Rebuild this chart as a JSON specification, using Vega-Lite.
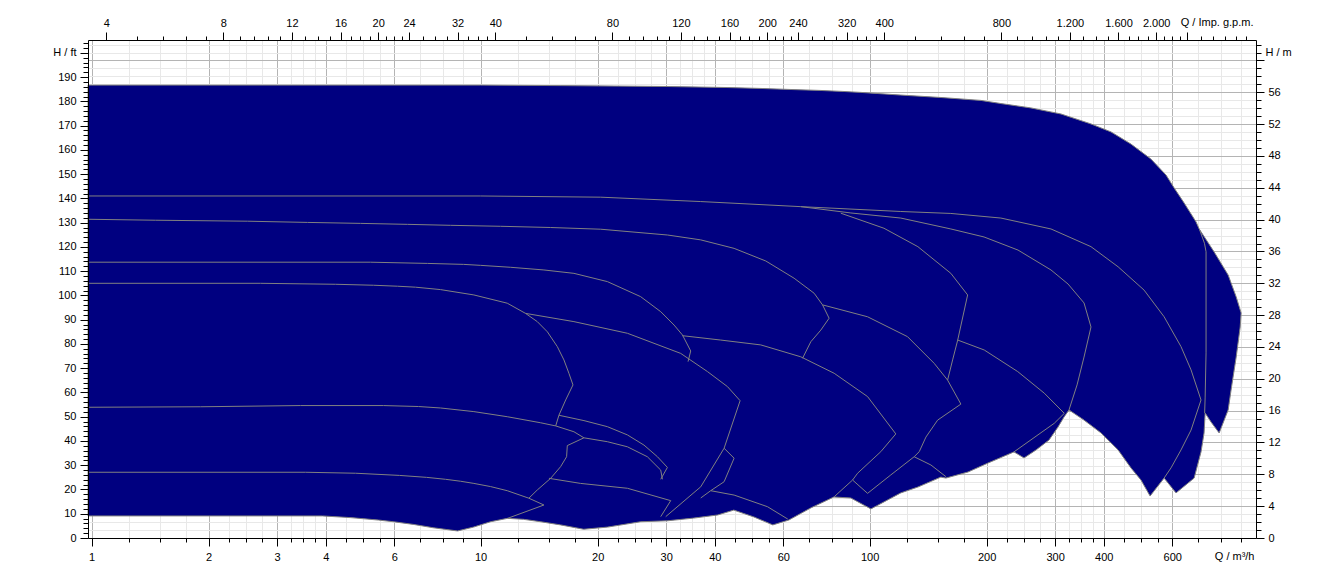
{
  "$schema": "https://vega.github.io/schema/vega-lite/v6.json",
  "width": 1168,
  "height": 498,
  "autosize": {"type": "none"},
  "padding": {"left": 88, "top": 40, "right": 88, "bottom": 41},
  "background": "#ffffff",
  "config": {
    "view": {"stroke": null},
    "font": "Liberation Sans",
    "axis": {"labelFont": "Liberation Sans", "labelFontSize": 11, "labelColor": "#000000", "tickColor": "#000000", "domainColor": "#000000", "titleFont": "Liberation Sans", "titleFontSize": 11, "titleFontWeight": "normal", "titleColor": "#000000", "labelFlush": false, "labelOverlap": false, "labelBound": false}
  },
  "datasets": {
    "field": [
      {"i":0,"q":0.979,"h":186.7},{"i":1,"q":10.0,"h":186.7},{"i":2,"q":16.06,"h":186.5},{"i":3,"q":30.82,"h":186.1},{"i":4,"q":43.2,"h":185.7},{"i":5,"q":53.14,"h":185.3},{"i":6,"q":62.72,"h":184.9},{"i":7,"q":74.92,"h":184.5},{"i":8,"q":85.35,"h":184.1},{"i":9,"q":94.95,"h":183.7},{"i":10,"q":120.3,"h":182.6},{"i":11,"q":152.5,"h":181.6},{"i":12,"q":193.3,"h":180.4},{"i":13,"q":217.6,"h":179.1},{"i":14,"q":259.9,"h":177.3},{"i":15,"q":310.5,"h":174.8},{"i":16,"q":370.9,"h":170.7},{"i":17,"q":417.6,"h":167.4},{"i":18,"q":469.9,"h":162.4},{"i":19,"q":529.0,"h":156.2},{"i":20,"q":578.4,"h":149.6},{"i":21,"q":606.8,"h":144.3},{"i":22,"q":643.7,"h":138.1},{"i":23,"q":690.8,"h":130.3},{"i":24,"q":703.6,"h":127.4},{"i":25,"q":769.0,"h":117.9},{"i":26,"q":835.4,"h":108.4},{"i":27,"q":876.0,"h":99.4},{"i":28,"q":902.0,"h":92.8},{"i":29,"q":897.0,"h":87.0},{"i":30,"q":876.0,"h":74.6},{"i":31,"q":849.9,"h":61.0},{"i":32,"q":835.4,"h":52.8},{"i":33,"q":792.0,"h":43.3},{"i":34,"q":755.0,"h":47.8},{"i":35,"q":729.0,"h":51.5},{"i":36,"q":724.3,"h":43.3},{"i":37,"q":711.4,"h":35.5},{"i":38,"q":683.0,"h":24.7},{"i":39,"q":613.6,"h":18.6},{"i":40,"q":571.7,"h":24.7},{"i":41,"q":526.2,"h":17.3},{"i":42,"q":498.6,"h":23.9},{"i":43,"q":469.9,"h":28.9},{"i":44,"q":435.5,"h":36.3},{"i":45,"q":393.6,"h":43.3},{"i":46,"q":355.9,"h":48.6},{"i":47,"q":325.6,"h":52.8},{"i":48,"q":316.2,"h":49.9},{"i":49,"q":305.2,"h":45.8},{"i":50,"q":289.3,"h":40.4},{"i":51,"q":267.9,"h":36.3},{"i":52,"q":249.5,"h":33.0},{"i":53,"q":235.1,"h":35.5},{"i":54,"q":201.6,"h":30.9},{"i":55,"q":179.1,"h":27.2},{"i":56,"q":157.1,"h":24.7},{"i":57,"q":152.5,"h":25.1},{"i":58,"q":133.1,"h":21.0},{"i":59,"q":120.3,"h":18.6},{"i":60,"q":100.8,"h":12.0},{"i":61,"q":89.49,"h":16.5},{"i":62,"q":80.93,"h":16.9},{"i":63,"q":70.62,"h":12.4},{"i":64,"q":62.0,"h":7.4},{"i":65,"q":56.39,"h":5.4},{"i":66,"q":50.39,"h":8.7},{"i":67,"q":44.77,"h":11.5},{"i":68,"q":40.72,"h":9.5},{"i":69,"q":35.32,"h":8.2},{"i":70,"q":30.27,"h":7.1},{"i":71,"q":25.79,"h":6.7},{"i":72,"q":21.22,"h":4.5},{"i":73,"q":18.41,"h":3.6},{"i":74,"q":16.06,"h":5.4},{"i":75,"q":14.27,"h":6.7},{"i":76,"q":12.9,"h":7.7},{"i":77,"q":11.73,"h":8.1},{"i":78,"q":10.61,"h":6.7},{"i":79,"q":9.594,"h":4.5},{"i":80,"q":8.727,"h":2.9},{"i":81,"q":7.57,"h":4.2},{"i":82,"q":6.724,"h":5.6},{"i":83,"q":5.973,"h":6.7},{"i":84,"q":5.465,"h":7.4},{"i":85,"q":4.63,"h":8.4},{"i":86,"q":3.922,"h":9.1},{"i":87,"q":0.979,"h":9.1},{"i":88,"q":0.979,"h":186.7}
    ],
    "curves": [
      {"c":"s01","i":0,"q":0.979,"h":141.0},{"c":"s01","i":1,"q":10.0,"h":141.0},{"c":"s01","i":2,"q":20.36,"h":140.5},{"c":"s01","i":3,"q":36.81,"h":138.7},{"c":"s01","i":4,"q":66.56,"h":136.6},{"c":"s01","i":5,"q":120.3,"h":134.6},{"c":"s01","i":6,"q":161.8,"h":133.8},{"c":"s01","i":7,"q":217.6,"h":131.9},{"c":"s01","i":8,"q":292.7,"h":127.4},{"c":"s01","i":9,"q":370.9,"h":120.1},{"c":"s01","i":10,"q":435.5,"h":111.8},{"c":"s01","i":11,"q":507.8,"h":102.2},{"c":"s01","i":12,"q":571.7,"h":91.2},{"c":"s01","i":13,"q":631.9,"h":78.9},{"c":"s01","i":14,"q":670.6,"h":69.3},{"c":"s01","i":15,"q":711.4,"h":56.9},{"c":"s01","i":16,"q":670.6,"h":44.5},{"c":"s01","i":17,"q":631.9,"h":36.3},{"c":"s01","i":18,"q":595.6,"h":28.9},{"c":"s01","i":19,"q":571.7,"h":24.7},
      {"c":"s02","i":0,"q":66.56,"h":136.6},{"c":"s02","i":1,"q":89.49,"h":134.0},{"c":"s02","i":2,"q":120.3,"h":131.9},{"c":"s02","i":3,"q":161.8,"h":127.4},{"c":"s02","i":4,"q":196.9,"h":124.1},{"c":"s02","i":5,"q":240.8,"h":118.7},{"c":"s02","i":6,"q":292.7,"h":110.5},{"c":"s02","i":7,"q":323.8,"h":104.7},{"c":"s02","i":8,"q":355.9,"h":96.9},{"c":"s02","i":9,"q":370.9,"h":87.0},{"c":"s02","i":10,"q":355.9,"h":74.6},{"c":"s02","i":11,"q":341.5,"h":63.1},{"c":"s02","i":12,"q":325.6,"h":52.8},
      {"c":"s03","i":0,"q":84.35,"h":133.9},{"c":"s03","i":1,"q":108.9,"h":127.7},{"c":"s03","i":2,"q":133.1,"h":120.1},{"c":"s03","i":3,"q":161.8,"h":109.1},{"c":"s03","i":4,"q":178.7,"h":100.2},{"c":"s03","i":5,"q":168.5,"h":81.6},{"c":"s03","i":6,"q":163.5,"h":73.4},{"c":"s03","i":7,"q":158.7,"h":65.1},
      {"c":"s04","i":0,"q":75.7,"h":96.1},{"c":"s04","i":1,"q":98.83,"h":91.2},{"c":"s04","i":2,"q":125.2,"h":83.0},{"c":"s04","i":3,"q":146.6,"h":72.0},{"c":"s04","i":4,"q":158.7,"h":65.1},{"c":"s04","i":5,"q":171.7,"h":55.2},{"c":"s04","i":6,"q":149.6,"h":48.6},{"c":"s04","i":7,"q":139.6,"h":41.6},{"c":"s04","i":8,"q":134.2,"h":35.6},{"c":"s04","i":9,"q":130.2,"h":33.5},{"c":"s04","i":10,"q":113.4,"h":26.0},{"c":"s04","i":11,"q":98.83,"h":18.4},{"c":"s04","i":12,"q":90.44,"h":23.9},
      {"c":"s05","i":0,"q":130.2,"h":33.5},{"c":"s05","i":1,"q":143.8,"h":30.1},{"c":"s05","i":2,"q":157.1,"h":25.3},
      {"c":"s06","i":0,"q":168.5,"h":81.6},{"c":"s06","i":1,"q":197.2,"h":77.5},{"c":"s06","i":2,"q":240.4,"h":68.6},{"c":"s06","i":3,"q":281.3,"h":59.7},{"c":"s06","i":4,"q":316.7,"h":51.4},{"c":"s06","i":5,"q":298.5,"h":47.3},{"c":"s06","i":6,"q":235.1,"h":35.5},
      {"c":"s07","i":0,"q":0.979,"h":131.4},{"c":"s07","i":1,"q":1.458,"h":131.0},{"c":"s07","i":2,"q":2.515,"h":130.6},{"c":"s07","i":3,"q":3.589,"h":130.1},{"c":"s07","i":4,"q":4.912,"h":129.7},{"c":"s07","i":5,"q":6.49,"h":129.3},{"c":"s07","i":6,"q":8.373,"h":128.9},{"c":"s07","i":7,"q":11.26,"h":128.5},{"c":"s07","i":8,"q":15.14,"h":128.0},{"c":"s07","i":9,"q":20.36,"h":127.3},{"c":"s07","i":10,"q":30.27,"h":124.9},{"c":"s07","i":11,"q":36.81,"h":122.9},{"c":"s07","i":12,"q":44.85,"h":119.4},{"c":"s07","i":13,"q":54.1,"h":114.2},{"c":"s07","i":14,"q":63.97,"h":107.1},{"c":"s07","i":15,"q":72.03,"h":100.9},{"c":"s07","i":16,"q":75.7,"h":96.1},{"c":"s07","i":17,"q":78.7,"h":90.6},{"c":"s07","i":18,"q":74.92,"h":85.7},{"c":"s07","i":19,"q":70.62,"h":80.9},{"c":"s07","i":20,"q":67.26,"h":74.1},
      {"c":"s08","i":0,"q":0.979,"h":113.7},{"c":"s08","i":1,"q":5.212,"h":113.7},{"c":"s08","i":2,"q":7.306,"h":113.2},{"c":"s08","i":3,"q":9.044,"h":112.8},{"c":"s08","i":4,"q":10.0,"h":112.4},{"c":"s08","i":5,"q":11.95,"h":111.6},{"c":"s08","i":6,"q":14.55,"h":110.5},{"c":"s08","i":7,"q":17.38,"h":109.1},{"c":"s08","i":8,"q":21.18,"h":105.7},{"c":"s08","i":9,"q":25.79,"h":99.5},{"c":"s08","i":10,"q":29.05,"h":93.3},{"c":"s08","i":11,"q":31.43,"h":87.8},{"c":"s08","i":12,"q":33.03,"h":83.7},{"c":"s08","i":13,"q":34.69,"h":77.1},{"c":"s08","i":14,"q":34.15,"h":72.7},
      {"c":"s09","i":0,"q":0.979,"h":105.0},{"c":"s09","i":1,"q":2.716,"h":105.0},{"c":"s09","i":2,"q":4.236,"h":104.6},{"c":"s09","i":3,"q":5.305,"h":104.2},{"c":"s09","i":4,"q":6.115,"h":103.8},{"c":"s09","i":5,"q":6.804,"h":103.4},{"c":"s09","i":6,"q":7.889,"h":102.4},{"c":"s09","i":7,"q":9.612,"h":100.2},{"c":"s09","i":8,"q":11.71,"h":96.8},{"c":"s09","i":9,"q":13.05,"h":92.6},{"c":"s09","i":10,"q":13.99,"h":89.2},{"c":"s09","i":11,"q":14.85,"h":85.0},{"c":"s09","i":12,"q":15.75,"h":78.9},{"c":"s09","i":13,"q":16.38,"h":73.4},{"c":"s09","i":14,"q":16.87,"h":67.9},{"c":"s09","i":15,"q":17.28,"h":63.1},{"c":"s09","i":16,"q":16.55,"h":56.9},{"c":"s09","i":17,"q":15.9,"h":50.6},{"c":"s09","i":18,"q":15.6,"h":46.2},
      {"c":"s10","i":0,"q":13.05,"h":92.6},{"c":"s10","i":1,"q":17.38,"h":89.2},{"c":"s10","i":2,"q":23.85,"h":84.4},{"c":"s10","i":3,"q":32.7,"h":76.1},{"c":"s10","i":4,"q":38.31,"h":68.6},{"c":"s10","i":5,"q":43.13,"h":62.4},{"c":"s10","i":6,"q":46.47,"h":56.6},{"c":"s10","i":7,"q":42.27,"h":37.0},{"c":"s10","i":8,"q":36.81,"h":21.1},{"c":"s10","i":9,"q":34.35,"h":17.0},{"c":"s10","i":10,"q":29.92,"h":8.8},
      {"c":"s11","i":0,"q":33.03,"h":83.4},{"c":"s11","i":1,"q":41.44,"h":81.6},{"c":"s11","i":2,"q":52.52,"h":79.6},{"c":"s11","i":3,"q":66.56,"h":74.7},{"c":"s11","i":4,"q":81.1,"h":67.9},{"c":"s11","i":5,"q":98.83,"h":58.3},{"c":"s11","i":6,"q":116.8,"h":42.9},{"c":"s11","i":7,"q":106.9,"h":35.6},{"c":"s11","i":8,"q":93.16,"h":26.7},{"c":"s11","i":9,"q":90.44,"h":23.9},{"c":"s11","i":10,"q":81.1,"h":17.0},
      {"c":"s13","i":0,"q":0.979,"h":53.9},{"c":"s13","i":1,"q":1.904,"h":54.1},{"c":"s13","i":2,"q":3.442,"h":54.6},{"c":"s13","i":3,"q":5.63,"h":54.6},{"c":"s13","i":4,"q":6.925,"h":54.2},{"c":"s13","i":5,"q":7.889,"h":53.6},{"c":"s13","i":6,"q":9.612,"h":52.1},{"c":"s13","i":7,"q":11.71,"h":50.0},{"c":"s13","i":8,"q":14.27,"h":47.5},{"c":"s13","i":9,"q":15.6,"h":46.2},{"c":"s13","i":10,"q":17.38,"h":43.8},{"c":"s13","i":11,"q":18.44,"h":41.3},{"c":"s13","i":12,"q":16.71,"h":38.1},{"c":"s13","i":13,"q":16.64,"h":33.5},{"c":"s13","i":14,"q":16.06,"h":29.4},{"c":"s13","i":15,"q":15.14,"h":24.6},{"c":"s13","i":16,"q":13.99,"h":19.8},{"c":"s13","i":17,"q":13.31,"h":16.4},
      {"c":"s14","i":0,"q":0.979,"h":27.1},{"c":"s14","i":1,"q":3.547,"h":27.1},{"c":"s14","i":2,"q":4.769,"h":26.7},{"c":"s14","i":3,"q":6.188,"h":25.8},{"c":"s14","i":4,"q":7.262,"h":25.0},{"c":"s14","i":5,"q":8.127,"h":24.2},{"c":"s14","i":6,"q":8.883,"h":23.4},{"c":"s14","i":7,"q":9.612,"h":22.5},{"c":"s14","i":8,"q":10.61,"h":21.2},{"c":"s14","i":9,"q":11.71,"h":19.5},{"c":"s14","i":10,"q":13.31,"h":16.4},{"c":"s14","i":11,"q":14.55,"h":13.6},{"c":"s14","i":12,"q":11.73,"h":8.1},
      {"c":"s15","i":0,"q":15.9,"h":50.6},{"c":"s15","i":1,"q":18.44,"h":48.4},{"c":"s15","i":2,"q":21.18,"h":45.9},{"c":"s15","i":3,"q":23.85,"h":42.5},{"c":"s15","i":4,"q":26.31,"h":38.3},{"c":"s15","i":5,"q":28.49,"h":33.5},{"c":"s15","i":6,"q":30.22,"h":29.1},{"c":"s15","i":7,"q":29.05,"h":24.2},
      {"c":"s16","i":0,"q":18.44,"h":41.3},{"c":"s16","i":1,"q":21.18,"h":39.7},{"c":"s16","i":2,"q":23.85,"h":37.6},{"c":"s16","i":3,"q":26.84,"h":33.5},{"c":"s16","i":4,"q":29.05,"h":28.0},{"c":"s16","i":5,"q":29.34,"h":24.2},
      {"c":"s17","i":0,"q":14.99,"h":24.6},{"c":"s17","i":1,"q":18.08,"h":22.5},{"c":"s17","i":2,"q":23.85,"h":20.5},{"c":"s17","i":3,"q":30.82,"h":15.4},{"c":"s17","i":4,"q":29.05,"h":8.8},
      {"c":"s18","i":0,"q":42.27,"h":37.0},{"c":"s18","i":1,"q":44.85,"h":32.9},{"c":"s18","i":2,"q":42.27,"h":23.2},{"c":"s18","i":3,"q":39.05,"h":19.5},{"c":"s18","i":4,"q":36.81,"h":16.5},
      {"c":"s19","i":0,"q":39.05,"h":19.5},{"c":"s19","i":1,"q":44.85,"h":17.7},{"c":"s19","i":2,"q":54.65,"h":12.9},{"c":"s19","i":3,"q":61.63,"h":7.8},
      {"c":"s20","i":0,"q":704.7,"h":127.3},{"c":"s20","i":1,"q":726.0,"h":121.5},{"c":"s20","i":2,"q":732.9,"h":118.0},{"c":"s20","i":3,"q":732.9,"h":76.3},{"c":"s20","i":4,"q":729.0,"h":58.1},{"c":"s20","i":5,"q":726.8,"h":51.5}
    ]
  },
  "layer": [
    {
      "data": {"name": "field"},
      "mark": {"type": "line", "filled": true, "fill": "#000080", "stroke": "#808080", "strokeWidth": 1},
      "encoding": {
        "x": {"field": "q", "type": "quantitative", "scale": {"type": "log", "domain": [0.979, 985], "nice": false, "zero": false},
          "axis": {"orient": "bottom", "values": [1,1.25,1.5,1.75,2,2.25,2.5,2.75,3,3.25,3.5,3.75,4,4.5,5,5.5,6,7,8,9,10,12.5,15,17.5,20,22.5,25,27.5,30,32.5,35,37.5,40,45,50,55,60,70,80,90,100,125,150,175,200,225,250,275,300,325,350,375,400,450,500,550,600,700,800,900],
            "grid": true,
            "gridColor": {"condition": {"test": "indexof([1,2,3,4,6,10,20,30,40,60,100,200,300,400,600], datum.value) >= 0", "value": "#b4b4b4"}, "value": "#e8e8e8"},
            "tickSize": {"condition": {"test": "indexof([1,2,3,4,6,10,20,30,40,60,100,200,300,400,600], datum.value) >= 0", "value": 8}, "value": 4},
            "labelExpr": "indexof([1,2,3,4,6,10,20,30,40,60,100,200,300,400,600], datum.value) >= 0 ? '' + datum.value : ''",
            "labelPadding": 5,
            "title": "Q / m³/h", "titleX": 1166, "titleY": 18, "titleAlign": "right", "titleBaseline": "middle", "titleAngle": 0,
            "zindex": 0}},
        "y": {"field": "h", "type": "quantitative", "scale": {"domain": [0, 205.3], "nice": false, "zero": false},
          "axis": {"orient": "left", "values": [0,2,4,6,8,10,12,14,16,18,20,22,24,26,28,30,32,34,36,38,40,42,44,46,48,50,52,54,56,58,60,62,64,66,68,70,72,74,76,78,80,82,84,86,88,90,92,94,96,98,100,102,104,106,108,110,112,114,116,118,120,122,124,126,128,130,132,134,136,138,140,142,144,146,148,150,152,154,156,158,160,162,164,166,168,170,172,174,176,178,180,182,184,186,188,190,192,194,196,198,200,202,204],
            "grid": false,
            "tickSize": {"condition": {"test": "datum.value % 10 == 0", "value": 8}, "value": 5},
            "labelExpr": "datum.value == 200 ? 'H / ft' : (datum.value % 10 == 0 && datum.value <= 190 ? '' + datum.value : '')",
            "labelPadding": 4,
            "title": null,
            "zindex": 1}},
        "order": {"field": "i", "type": "quantitative"}
      }
    },
    {
      "data": {"name": "curves"},
      "mark": {"type": "line", "stroke": "#808080", "strokeWidth": 1},
      "encoding": {
        "x": {"field": "q", "type": "quantitative", "scale": {"type": "log", "domain": [0.979, 985], "nice": false, "zero": false}, "axis": null},
        "y": {"field": "h", "type": "quantitative", "scale": {"domain": [0, 205.3], "nice": false, "zero": false}, "axis": null},
        "detail": {"field": "c", "type": "nominal"},
        "order": {"field": "i", "type": "quantitative"}
      }
    },
    {
      "mark": {"type": "rect", "fill": "#ffffff", "stroke": "#000000", "strokeWidth": 1},
      "encoding": {
        "x": {"datum": 16.55, "type": "quantitative", "scale": {"type": "log", "domain": [0.979, 985], "nice": false, "zero": false}, "axis": null},
        "x2": {"datum": 57.98},
        "y": {"datum": 205.3, "type": "quantitative", "scale": {"domain": [0, 205.3], "nice": false, "zero": false}, "axis": null},
        "y2": {"datum": 196.1}
      }
    },
    {
      "mark": {"type": "text", "text": "Head", "align": "left", "baseline": "middle", "fontSize": 11, "font": "Liberation Sans", "color": "#000000"},
      "encoding": {
        "x": {"datum": 1.008, "type": "quantitative", "scale": {"type": "log", "domain": [0.979, 985], "nice": false, "zero": false}, "axis": null},
        "y": {"datum": 200.3, "type": "quantitative", "scale": {"domain": [0, 205.3], "nice": false, "zero": false}, "axis": null}
      }
    },
    {
      "mark": {"type": "text", "text": "ECSO - 1450 rpm - 50 Hz", "align": "center", "baseline": "middle", "fontSize": 16, "font": "Liberation Sans", "color": "#000000"},
      "encoding": {
        "x": {"datum": 113.5, "type": "quantitative", "scale": {"type": "log", "domain": [3.589, 3611], "nice": false, "zero": false},
          "axis": {"orient": "top", "values": [4,4.8,5.6,6.4,7.2,8,8.8,9.6,10.4,11.2,12,13,14,15,16,17,18,19,20,21,22,23,24,26,28,30,32,34,36,38,40,48,56,64,72,80,88,96,104,112,120,130,140,150,160,170,180,190,200,210,220,230,240,260,280,300,320,340,360,380,400,480,560,640,720,800,880,960,1040,1120,1200,1300,1400,1500,1600,1700,1800,1900,2000,2100,2200,2300,2400,2600,2800,3000,3200,3400],
            "grid": false,
            "tickSize": {"condition": {"test": "indexof([4,8,12,16,20,24,32,40,80,120,160,200,240,320,400,800,1200,1600,2000,2400], datum.value) >= 0", "value": 8}, "value": 4},
            "labelExpr": "indexof([4,8,12,16,20,24,32,40,80,120,160,200,240,320,400,800,1200,1600,2000], datum.value) >= 0 ? replace(format(datum.value, ','), ',', '.') : ''",
            "labelPadding": 4,
            "title": "Q / Imp. g.p.m.", "titleX": 1165, "titleY": -18, "titleAlign": "right", "titleBaseline": "middle", "titleAngle": 0,
            "zindex": 0}},
        "y": {"datum": 61.17, "type": "quantitative", "scale": {"domain": [0, 62.575], "nice": false, "zero": false},
          "axis": {"orient": "right", "values": [0,1,2,3,4,5,6,7,8,9,10,11,12,13,14,15,16,17,18,19,20,21,22,23,24,25,26,27,28,29,30,31,32,33,34,35,36,37,38,39,40,41,42,43,44,45,46,47,48,49,50,51,52,53,54,55,56,57,58,59,60,61,62],
            "grid": true,
            "gridColor": {"condition": {"test": "datum.value % 4 == 0", "value": "#b4b4b4"}, "value": "#e8e8e8"},
            "tickSize": {"condition": {"test": "datum.value % 4 == 0", "value": 8}, "value": 5},
            "labelExpr": "datum.value == 61 ? 'H / m' : (datum.value % 4 == 0 && datum.value <= 56 ? '' + datum.value : '')",
            "labelPadding": 4,
            "title": null,
            "zindex": 0}}
      }
    }
  ],
  "resolve": {"scale": {"x": "independent", "y": "independent"}, "axis": {"x": "independent", "y": "independent"}}
}
